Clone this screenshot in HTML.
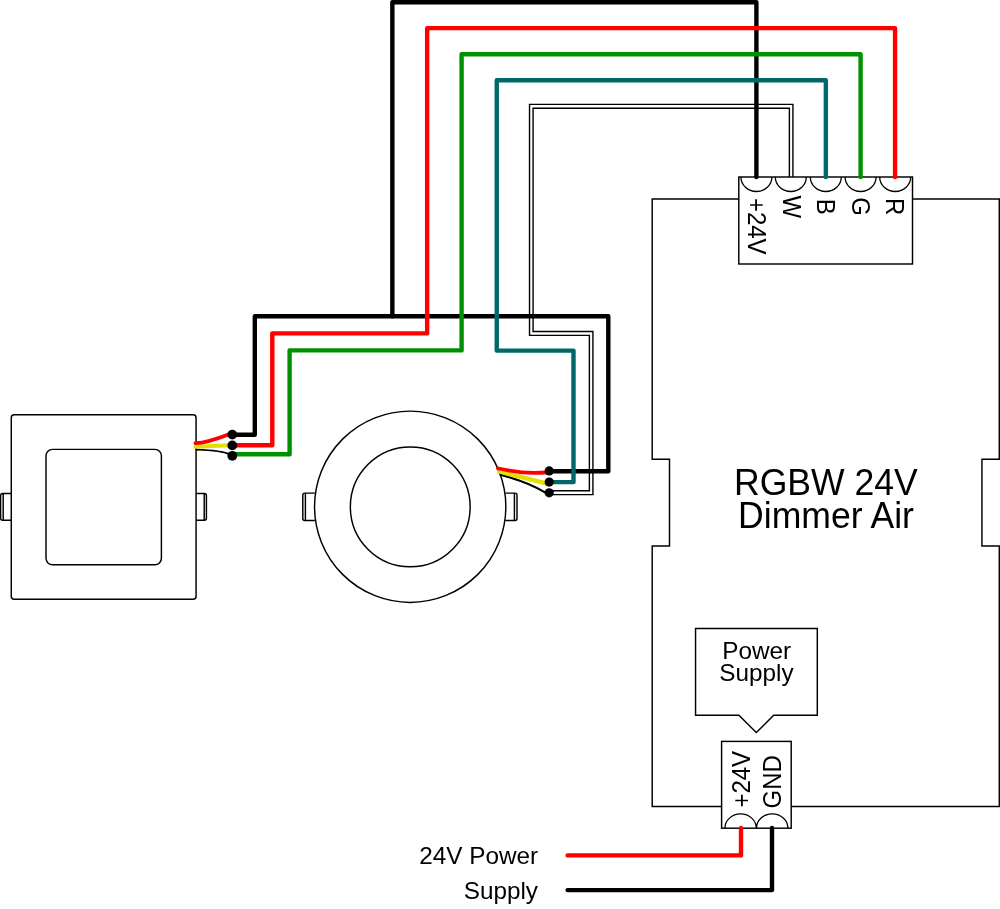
<!DOCTYPE html>
<html><head><meta charset="utf-8"><style>
html,body{margin:0;padding:0;background:#fff;overflow:hidden}
svg{display:block;will-change:transform}
text{font-family:"Liberation Sans",sans-serif;fill:#000}
</style></head><body>
<svg width="1000" height="909" viewBox="0 0 1000 909">
<rect width="1000" height="909" fill="#fff"/>
<!-- outlines -->
<g fill="none" stroke="#000" stroke-width="1.45">
  <!-- main dimmer box -->
  <path d="M652.2,198.9 H999.3 V459.3 H981.95 V546 H999.3 V806.45 H652.2 V546 H669.5 V459.3 H652.2 Z"/>
  <!-- square fixture -->
  <rect x="11.27" y="414.75" width="184.8" height="184.4" rx="3"/>
  <rect x="46" y="449.35" width="115.4" height="115.45" rx="6.5"/>
  <path d="M11.3,493.5 H2.5 Q0.6,493.5 0.6,495.5 V518.2 Q0.6,520.2 2.5,520.2 H11.3 M3.2,493.5 V520.2"/>
  <path d="M196.1,493.5 H204.5 Q206.4,493.5 206.4,495.5 V518.2 Q206.4,520.2 204.5,520.2 H196.1 M204.2,493.5 V520.2"/>
  <!-- round fixture -->
  <circle cx="410.2" cy="506.75" r="95.65"/>
  <circle cx="410.25" cy="506.9" r="59.9"/>
  <path d="M314.9,493.1 H304.6 Q302.8,493.1 302.8,495 V518.5 Q302.8,520.4 304.6,520.4 H314.9 M305.4,493.1 V520.4"/>
  <path d="M505.4,493.1 H515.2 Q517,493.1 517,495 V518.5 Q517,520.4 515.2,520.4 H505.4 M514.4,493.1 V520.4"/>
  <!-- power supply callout -->
  <path d="M695.55,628.5 H817.3 V715.3 H773.7 L756.3,732.6 L738.9,715.3 H695.55 Z"/>
</g>
<!-- terminal blocks -->
<g fill="#fff" stroke="#000" stroke-width="1.45">
  <rect x="738.8" y="177" width="173.7" height="87"/>
  <rect x="721.6" y="741.4" width="69.6" height="86.8"/>
</g>
<g fill="none" stroke="#000" stroke-width="1.3">
  <path d="M740.9,177 A15.5,14.5 0 0 0 771.9,177 M775.3,177 A15.5,14.5 0 0 0 806.3,177 M810.3,177 A15.5,14.5 0 0 0 841.3,177 M845.1,177 A15.5,14.5 0 0 0 876.1,177 M879.7,177 A15.5,14.5 0 0 0 910.7,177"/>
  <path d="M724.9,828.2 A15.7,14.3 0 0 1 756.3,828.2 M756.5,828.2 A15.7,14.3 0 0 1 787.9,828.2"/>
</g>
<!-- texts -->
<g font-size="24">
  <text transform="translate(747.8,197.9) rotate(90) scale(1,1.04)">+24V</text>
  <text transform="translate(782.5,206.7) rotate(90) scale(1,1.04)" text-anchor="middle">W</text>
  <text transform="translate(817.4,206.7) rotate(90) scale(1,1.04)" text-anchor="middle">B</text>
  <text transform="translate(852.2,206.7) rotate(90) scale(1,1.04)" text-anchor="middle">G</text>
  <text transform="translate(886.3,206.7) rotate(90) scale(1,1.04)" text-anchor="middle">R</text>
  <text transform="translate(749.9,807.6) rotate(-90) scale(1,1.04)">+24V</text>
  <text transform="translate(780.9,808.5) rotate(-90) scale(1,1.04)">GND</text>
  <text transform="translate(756.7,658.6)" font-size="24.3" text-anchor="middle">Power</text>
  <text transform="translate(756.5,681.3)" font-size="24.3" text-anchor="middle">Supply</text>
  <text transform="translate(538.2,863.8)" font-size="24.3" text-anchor="end">24V Power</text>
  <text transform="translate(538,898.9)" font-size="24.3" text-anchor="end">Supply</text>
</g>
<g font-size="35.6" text-anchor="middle">
  <text transform="translate(825.9,495.2) scale(1,1.045)">RGBW 24V</text>
  <text transform="translate(826,528.2) scale(1,1.045)">Dimmer Air</text>
</g>
<!-- wires -->
<g fill="none" stroke-linecap="round" stroke-linejoin="round">
  <!-- white wire -->
  <path d="M792.925,177 V104.375 H529.525 V335.325 H589.375 V490.725 H549.2 M789.375,177 V108.225 H533.075 V331.475 H592.925 V494.575 H549.2" stroke="#000" stroke-width="1.4" stroke-linecap="butt" stroke-linejoin="miter"/>
  <!-- black -->
  <path d="M756.4,177 V2.25 H392.35 V316.2" stroke="#000" stroke-width="4.4"/>
  <path d="M232.4,434.7 H254.8 V316.2 H608.3 V471.3 H549.2" stroke="#000" stroke-width="4.4"/>
  <path d="M741,828 V855.4 H567.6" stroke="#f00" stroke-width="4.4"/>
  <path d="M772,828 V890.1 H567.6" stroke="#000" stroke-width="4.4"/>
  <!-- red -->
  <path d="M895.05,177 V28.15 H427.15 V333.4 H272.3 V445.3 H232.4" stroke="#f00" stroke-width="4.4"/>
  <!-- green -->
  <path d="M860.6,177 V54.2 H461.6 V350.4 H289.6 V454.3 H232.4" stroke="#009100" stroke-width="4.4"/>
  <!-- teal -->
  <path d="M825.85,177 V80.3 H496.75 V350.6 H573.5 V482.1 H549.2" stroke="#006868" stroke-width="4.4"/>
  <!-- stubs square -->
  <path d="M196,449.6 Q222.8,450.5 229,454.2" stroke="#000" stroke-width="1.6"/>
  <path d="M195.3,446.8 L229,445.3" stroke="#e2e000" stroke-width="4"/>
  <path d="M195.5,443.2 Q207,443 229,434.3" stroke="#f00" stroke-width="3.8"/>
  <!-- stubs round -->
  <path d="M500.5,474.7 C517.4,479.3 533.5,485.2 545,492.4" stroke="#000" stroke-width="2"/>
  <path d="M499,471.4 L545.2,483.1" stroke="#e2e000" stroke-width="4.3"/>
  <path d="M497.9,468.3 C508,470.5 524,474.5 545,472.5" stroke="#f00" stroke-width="3.8"/>
</g>
<g fill="#000">
  <circle cx="232.3" cy="434.6" r="4.9"/>
  <circle cx="232.3" cy="445.4" r="4.9"/>
  <circle cx="232.3" cy="455.8" r="4.9"/>
  <circle cx="549.2" cy="470.9" r="4.6"/>
  <circle cx="549.2" cy="482.1" r="4.6"/>
  <circle cx="549.2" cy="492.8" r="4.6"/>
</g>
</svg>
</body></html>
